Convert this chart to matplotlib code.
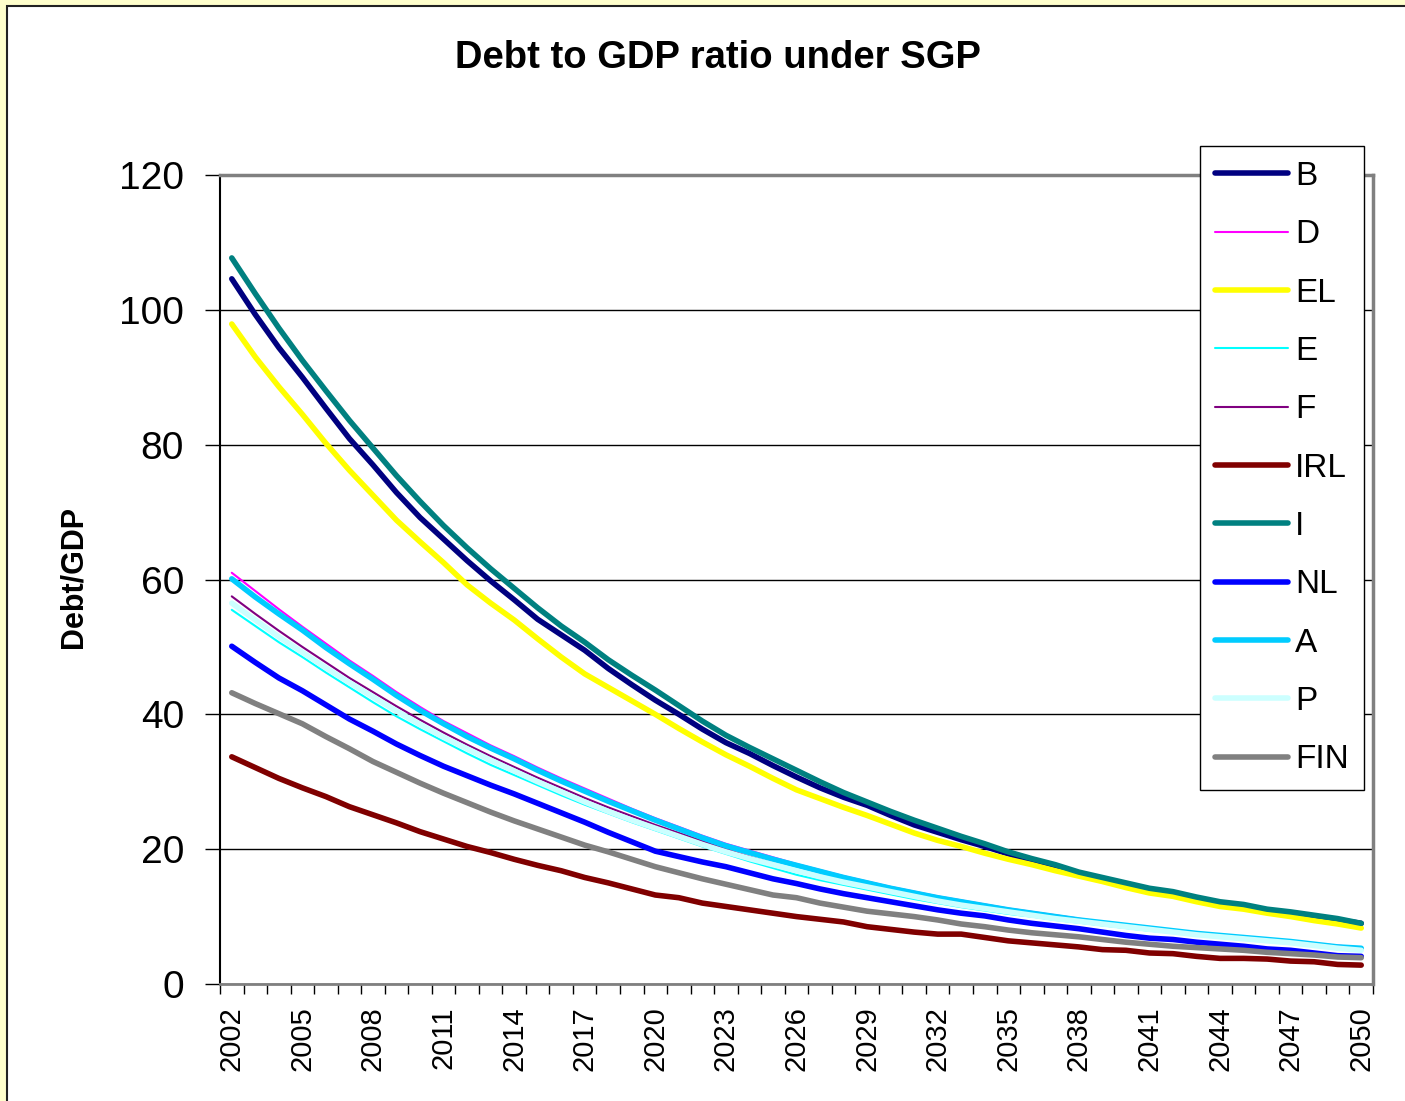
import matplotlib.pyplot as plt
from matplotlib.patches import Rectangle

plt.rcParams['font.family'] = ['Liberation Sans', 'DejaVu Sans']

# Years on the category axis
years = list(range(2002, 2051))

# Debt/GDP paths per country
B = [104.6, 99.3, 94.4, 90.0, 85.4, 80.9, 77.0, 72.9, 69.2, 66.0, 62.8, 59.8, 57.0,
     54.1, 51.8, 49.5, 46.8, 44.4, 42.1, 40.0, 37.8, 35.8, 34.2, 32.4, 30.7, 29.1,
     27.7, 26.5, 25.0, 23.6, 22.5, 21.4, 20.4, 19.3, 18.2, 17.3, 16.4, 15.6, 14.8,
     14.0, 13.5, 12.6, 12.0, 11.5, 10.9, 10.5, 10.0, 9.5, 9.0]
D = [61.0, 58.3, 55.6, 53.0, 50.5, 48.0, 45.7, 43.3, 41.1, 39.0, 37.2, 35.4, 33.8,
     32.1, 30.5, 29.0, 27.5, 26.0, 24.6, 23.3, 22.0, 20.8, 19.8, 18.8, 17.8, 16.9,
     16.0, 15.2, 14.4, 13.7, 13.0, 12.4, 11.8, 11.2, 10.7, 10.2, 9.7, 9.2, 8.8,
     8.4, 8.0, 7.6, 7.3, 7.0, 6.7, 6.4, 6.0, 5.7, 5.4]
EL = [97.9, 93.0, 88.6, 84.5, 80.2, 76.2, 72.5, 68.8, 65.6, 62.5, 59.2, 56.5, 54.0,
      51.2, 48.5, 46.0, 44.0, 42.0, 40.0, 37.9, 35.9, 34.0, 32.3, 30.5, 28.8, 27.5,
      26.2, 25.0, 23.7, 22.4, 21.3, 20.4, 19.4, 18.5, 17.7, 16.8, 16.0, 15.2, 14.3,
      13.5, 13.0, 12.2, 11.5, 11.1, 10.5, 10.0, 9.4, 8.9, 8.3]
E = [55.5, 53.1, 50.7, 48.5, 46.2, 44.0, 41.8, 39.7, 37.8, 36.0, 34.2, 32.5, 31.0,
     29.5, 28.0, 26.6, 25.3, 24.0, 22.8, 21.6, 20.4, 19.3, 18.2, 17.2, 16.2, 15.4,
     14.7, 14.0, 13.3, 12.6, 12.0, 11.4, 10.9, 10.4, 10.0, 9.5, 9.1, 8.7, 8.3,
     7.9, 7.6, 7.2, 6.9, 6.6, 6.3, 6.0, 5.7, 5.4, 5.1]
F = [57.5, 54.9, 52.4, 50.0, 47.7, 45.4, 43.3, 41.2, 39.2, 37.3, 35.5, 33.8, 32.2,
     30.6, 29.1, 27.6, 26.2, 24.9, 23.6, 22.4, 21.2, 20.0, 18.9, 17.9, 16.9, 16.1,
     15.3, 14.5, 13.8, 13.1, 12.4, 11.8, 11.2, 10.7, 10.2, 9.7, 9.2, 8.8, 8.4,
     8.0, 7.6, 7.3, 7.0, 6.7, 6.4, 6.1, 5.8, 5.4, 5.1]
IRL = [33.7, 32.1, 30.5, 29.1, 27.8, 26.3, 25.1, 23.9, 22.6, 21.5, 20.4, 19.5, 18.5,
       17.6, 16.8, 15.8, 15.0, 14.1, 13.2, 12.8, 12.0, 11.5, 11.0, 10.5, 10.0, 9.6,
       9.2, 8.5, 8.1, 7.7, 7.4, 7.4, 6.9, 6.4, 6.1, 5.8, 5.5, 5.1, 5.0,
       4.6, 4.5, 4.1, 3.8, 3.8, 3.7, 3.4, 3.3, 2.9, 2.8]
I = [107.7, 102.4, 97.3, 92.5, 88.0, 83.6, 79.5, 75.4, 71.6, 68.0, 64.7, 61.6, 58.7,
     55.8, 53.1, 50.7, 48.1, 45.8, 43.6, 41.3, 39.0, 36.9, 35.1, 33.4, 31.7, 30.0,
     28.4, 27.0, 25.6, 24.3, 23.1, 21.9, 20.8, 19.6, 18.6, 17.7, 16.6, 15.8, 15.0,
     14.2, 13.7, 12.9, 12.2, 11.8, 11.1, 10.7, 10.2, 9.7, 9.0]
NL = [50.1, 47.7, 45.4, 43.5, 41.4, 39.3, 37.5, 35.6, 33.9, 32.3, 30.9, 29.5, 28.2,
      26.8, 25.4, 24.0, 22.5, 21.1, 19.7, 18.9, 18.1, 17.4, 16.5, 15.6, 14.9, 14.1,
      13.4, 12.8, 12.2, 11.6, 11.0, 10.5, 10.1, 9.5, 9.0, 8.6, 8.2, 7.7, 7.2,
      6.8, 6.6, 6.2, 5.9, 5.6, 5.2, 5.0, 4.6, 4.2, 4.1]
A = [60.1, 57.4, 54.9, 52.5, 49.9, 47.5, 45.2, 42.8, 40.6, 38.6, 36.7, 35.0, 33.4,
     31.7, 30.1, 28.6, 27.1, 25.7, 24.3, 23.0, 21.7, 20.5, 19.5, 18.5, 17.6, 16.7,
     15.8, 15.0, 14.2, 13.5, 12.8, 12.2, 11.6, 11.0, 10.5, 10.0, 9.5, 9.1, 8.7,
     8.3, 7.9, 7.5, 7.2, 6.9, 6.6, 6.3, 5.9, 5.5, 5.3]
P = [56.5, 54.0, 51.5, 49.2, 46.9, 44.7, 42.6, 40.5, 38.5, 36.6, 34.9, 33.2, 31.6,
     30.0, 28.5, 27.0, 25.6, 24.3, 23.1, 21.9, 20.7, 19.6, 18.6, 17.7, 16.8, 15.9,
     15.1, 14.4, 13.7, 13.0, 12.3, 11.7, 11.2, 10.7, 10.2, 9.7, 9.3, 8.9, 8.5,
     8.1, 7.7, 7.3, 7.0, 6.7, 6.4, 6.1, 5.7, 5.3, 5.0]
FIN = [43.2, 41.6, 40.1, 38.6, 36.7, 34.9, 33.0, 31.4, 29.8, 28.3, 26.9, 25.5, 24.2,
       23.0, 21.8, 20.6, 19.6, 18.5, 17.4, 16.5, 15.6, 14.8, 14.0, 13.2, 12.8, 12.0,
       11.4, 10.8, 10.4, 10.0, 9.5, 8.9, 8.5, 8.0, 7.6, 7.3, 7.0, 6.6, 6.2,
       5.9, 5.6, 5.4, 5.2, 5.0, 4.7, 4.5, 4.3, 4.0, 3.9]

series = [
    ('B', B, '#000080', 4),
    ('D', D, '#FF00FF', 1.5),
    ('EL', EL, '#FFFF00', 4),
    ('E', E, '#00FFFF', 1.5),
    ('F', F, '#800080', 1.5),
    ('IRL', IRL, '#800000', 4),
    ('I', I, '#008080', 4),
    ('NL', NL, '#0000FF', 4),
    ('A', A, '#00CCFF', 4),
    ('P', P, '#CCFFFF', 4),
    ('FIN', FIN, '#808080', 4),
]

fig = plt.figure(figsize=(14.05, 11.01), dpi=100)
fig.patch.set_facecolor('#FFFFCC')
# white chart area with dark frame
fig.patches.append(Rectangle((7 / 1405, -0.05), 1.1, 1 - 6 / 1101 + 0.05,
                             transform=fig.transFigure, facecolor='white',
                             edgecolor='#222222', linewidth=1.5, zorder=-1))

ax = fig.add_axes([220 / 1405, 1 - 984 / 1101, (1373 - 220) / 1405, (984 - 175) / 1101])
ax.set_facecolor('white')

x = list(range(len(years)))
for name, vals, color, lw in series:
    ax.plot(x, vals, color=color, lw=lw, label=name, solid_capstyle='round',
            solid_joinstyle='round')

ax.set_xlim(-0.5, len(years) - 0.5)
ax.set_ylim(0, 120)
ax.set_yticks(range(0, 121, 20))
ax.grid(axis='y', color='black', lw=1)
ax.set_axisbelow(True)
ax.tick_params(axis='y', labelsize=28, length=11, width=1, pad=15, direction='out')

# category labels every 3 years, tick marks between categories
ax.set_xticks(x[::3])
ax.set_xticklabels([str(y) for y in years[::3]], rotation=90, fontsize=21)
ax.set_xticks([i - 0.5 for i in range(len(years) + 1)], minor=True)
ax.tick_params(axis='x', which='major', length=0, pad=16)
ax.tick_params(axis='x', which='minor', length=7, width=1, color='black')

ax.spines['top'].set_color('#808080')
ax.spines['top'].set_linewidth(2.5)
ax.spines['right'].set_color('#808080')
ax.spines['right'].set_linewidth(2.5)
ax.spines['left'].set_color('black')
ax.spines['left'].set_linewidth(1.5)
ax.spines['bottom'].set_color('#808080')
ax.spines['bottom'].set_linewidth(2)

fig.text(718 / 1405, 1 - 58 / 1101, 'Debt to GDP ratio under SGP', ha='center',
         va='center', fontsize=27.5, fontweight='bold')
fig.text(74 / 1405, 1 - 577 / 1101, 'Debt/GDP', ha='center', va='center',
         rotation=90, fontsize=22, fontweight='bold')

leg = ax.legend(loc='upper left', bbox_to_anchor=(1200 / 1405, 1 - 146 / 1101),
                bbox_transform=fig.transFigure, fontsize=24, frameon=True,
                fancybox=False, framealpha=1, edgecolor='black',
                handlelength=2.2, handletextpad=0.2, labelspacing=0.82,
                borderpad=0.45, borderaxespad=0)
leg.get_frame().set_linewidth(1)

fig.savefig('out.png', dpi=100, facecolor=fig.get_facecolor())
